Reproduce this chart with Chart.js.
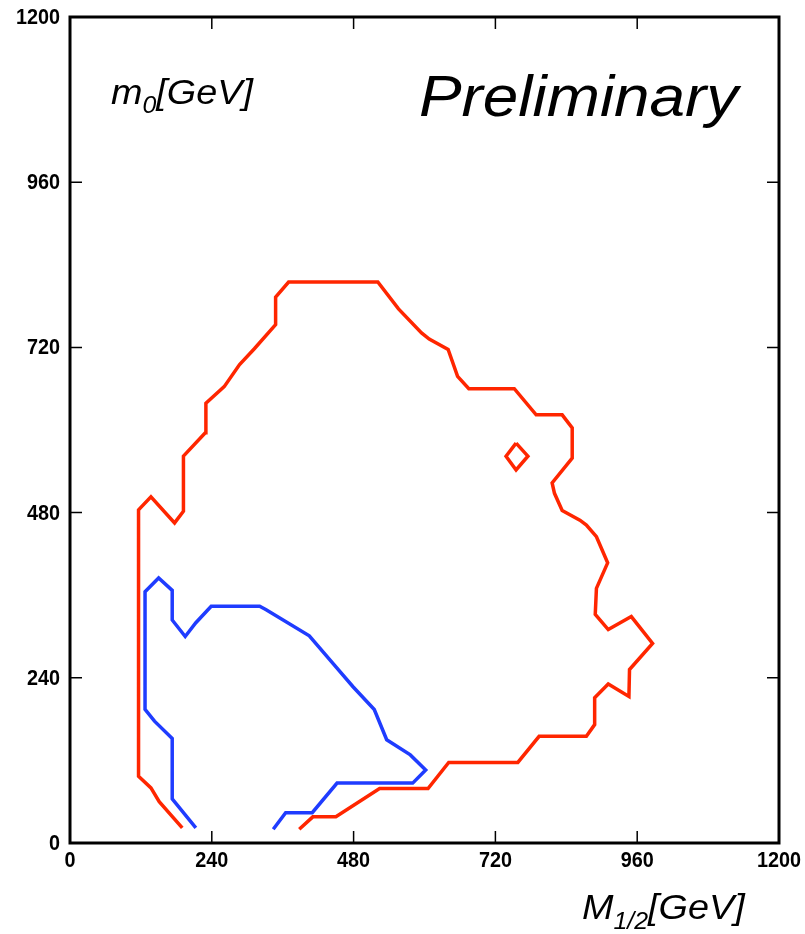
<!DOCTYPE html>
<html>
<head>
<meta charset="utf-8">
<script src="https://cdn.jsdelivr.net/npm/chart.js@4"></script>
<style>
  html, body { margin: 0; padding: 0; background: #fff; }
  #plano { display: block; }
</style>
</head>
<body>
<canvas id="plano" width="805" height="934"></canvas>
<script>
// contorno rojo (M1/2, m0) en GeV
const rojoX = [190, 151, 137, 116, 116, 137, 177, 192, 192, 229, 230, 261, 287, 312, 348, 348, 370, 521,
  556, 595, 608, 640, 656, 675, 752, 789, 833, 850, 850, 816, 820, 833, 863, 874, 891, 910, 891, 889,
  911, 950, 986, 947, 946, 911, 888, 888, 874, 794, 758, 641, 606, 524, 450, 411, 388];
const rojoY = [22, 60, 80, 97, 484, 503, 465, 482, 562, 596, 639, 663, 695, 718, 753, 793, 815, 815,
  776, 741, 732, 717, 678, 660, 660, 622, 622, 603, 559, 523, 508, 483, 469, 462, 445, 407, 370, 332,
  310, 329, 290, 252, 213, 231, 211, 172, 155, 155, 117, 117, 79, 79, 38, 38, 20];

// islita roja cerrada
const islaX = [755, 775, 755, 738, 755];
const islaY = [581, 562, 542, 562, 581];

// contorno azul
const azulX = [213, 173, 173, 143, 127, 127, 150, 173, 173, 195, 213, 239, 321, 332, 405, 445, 479,
  515, 536, 576, 602, 580, 452, 410, 365, 344];
const azulY = [22, 64, 152, 177, 194, 365, 385, 367, 324, 300, 320, 344, 344, 339, 301, 261, 227,
  194, 150, 128, 106, 87, 87, 44, 44, 20];

const marcas = [0, 240, 480, 720, 960, 1200];

const rojo = '#ff2600';
const azul = '#1f3cff';

const pares = (xs, ys) => xs.map((x, i) => ({x: x, y: ys[i]}));

const linea = (pts, color) => ({
  data: pts,
  showLine: true,
  borderColor: color,
  borderWidth: 3.5,
  pointRadius: 0,
  fill: false,
  tension: 0
});

// texto en cursiva con sub-indice, un poco ensanchado
function texto(ctx, partes, x, y, ancho) {
  ctx.save();
  ctx.translate(x, y);
  ctx.scale(ancho, 1);
  let px = 0;
  partes.forEach(p => {
    ctx.font = 'italic ' + p.size + 'px "Liberation Sans", Arial, sans-serif';
    ctx.fillText(p.t, px, p.dy || 0);
    px += ctx.measureText(p.t).width;
  });
  ctx.restore();
}

// numero angosto en negrita
function numero(ctx, s, x, y) {
  ctx.save();
  ctx.translate(x, y);
  ctx.scale(0.9, 1);
  ctx.fillText(s, 0, 0);
  ctx.restore();
}

const marco = {
  id: 'marco',
  beforeDraw(chart) {
    const ctx = chart.ctx;
    ctx.save();
    ctx.fillStyle = '#fff';
    ctx.fillRect(0, 0, chart.width, chart.height);
    ctx.restore();
  },
  afterDraw(chart) {
    const ctx = chart.ctx;
    const a = chart.chartArea;
    const sx = chart.scales.x;
    const sy = chart.scales.y;
    ctx.save();
    ctx.strokeStyle = '#000';
    ctx.lineWidth = 1.5;
    const largo = 12;
    marcas.forEach(v => {
      if (v === 0 || v === 1200) return;
      const px = sx.getPixelForValue(v);
      const py = sy.getPixelForValue(v);
      ctx.beginPath();
      ctx.moveTo(px, a.bottom); ctx.lineTo(px, a.bottom - largo);
      ctx.moveTo(px, a.top); ctx.lineTo(px, a.top + largo);
      ctx.moveTo(a.left, py); ctx.lineTo(a.left + largo, py);
      ctx.moveTo(a.right, py); ctx.lineTo(a.right - largo, py);
      ctx.stroke();
    });
    ctx.lineWidth = 3;
    ctx.strokeRect(a.left, a.top, a.right - a.left, a.bottom - a.top);

    // numeros de los ejes
    ctx.fillStyle = '#000';
    ctx.font = 'bold 22px "Liberation Sans", Arial, sans-serif';
    ctx.textAlign = 'center';
    ctx.textBaseline = 'top';
    marcas.forEach(v => {
      numero(ctx, String(v), sx.getPixelForValue(v), a.bottom + 7);
    });
    ctx.textAlign = 'right';
    ctx.textBaseline = 'middle';
    marcas.forEach(v => {
      numero(ctx, String(v), a.left - 10, sy.getPixelForValue(v) + 1);
    });

    ctx.textAlign = 'left';
    ctx.textBaseline = 'alphabetic';
    texto(ctx, [{t: 'm', size: 35}, {t: '0', size: 23, dy: 9}, {t: '[GeV]', size: 35}], 111, 104, 1.08);
    texto(ctx, [{t: 'M', size: 35}, {t: '1/2', size: 23, dy: 10}, {t: '[GeV]', size: 35}], 582, 919, 1.08);
    texto(ctx, [{t: 'Preliminary', size: 57}], 419, 116, 1.12);
    ctx.restore();
  }
};

new Chart(document.getElementById('plano'), {
  type: 'scatter',
  data: {
    datasets: [
      linea(pares(rojoX, rojoY), rojo),
      linea(pares(islaX, islaY), rojo),
      linea(pares(azulX, azulY), azul)
    ]
  },
  options: {
    responsive: false,
    animation: false,
    layout: {padding: {left: 70, top: 17, right: 26, bottom: 91}},
    plugins: {legend: {display: false}, tooltip: {enabled: false}},
    scales: {
      x: {type: 'linear', min: 0, max: 1200, display: false},
      y: {type: 'linear', min: 0, max: 1200, display: false}
    }
  },
  plugins: [marco]
});
</script>
</body>
</html>
